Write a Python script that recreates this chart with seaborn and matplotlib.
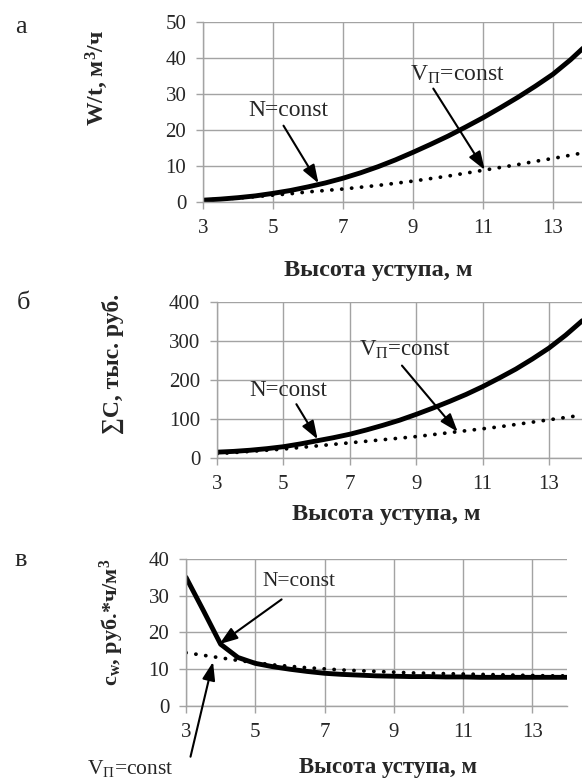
import numpy as np
import pandas as pd
import matplotlib
matplotlib.use('Agg')
import matplotlib.pyplot as plt
import seaborn as sns

# ---------data
height = [3, 3.5, 4, 4.5, 5, 5.5, 6, 6.5, 7, 7.5, 8, 8.5, 9, 9.5, 10,
          10.5, 11, 11.5, 12, 12.5, 13, 13.5, 14]

# a - W/t, m3/h
wt_N = [0.5, 0.8, 1.2, 1.7, 2.4, 3.2, 4.2, 5.3, 6.6, 8.1, 9.8, 11.7, 13.8,
        16.0, 18.3, 20.8, 23.4, 26.2, 29.1, 32.2, 35.5, 39.5, 44.0]
wt_V = [0.5, 0.8, 1.1, 1.5, 1.9, 2.3, 2.8, 3.2, 3.6, 4.1, 4.6, 5.2, 5.8,
        6.5, 7.2, 8.0, 8.8, 9.6, 10.4, 11.3, 12.1, 13.0, 13.9]

# б - total cost, thousand rub
cost_N = [15, 17, 20, 24, 29, 36, 44, 52, 61, 72, 84, 97, 112, 128, 145,
          163, 183, 205, 228, 254, 282, 315, 352]
cost_V = [11, 14, 17, 20, 23, 27, 31, 35, 39, 43, 47, 51, 55, 60, 65, 70,
          75, 80, 86, 92, 98, 104, 110]

# в - unit cost c_w
cw_N = [35.0, 26.0, 16.8, 13.2, 11.6, 10.7, 10.0, 9.4, 8.9, 8.6, 8.4, 8.2,
        8.1, 8.0, 8.0, 7.9, 7.9, 7.8, 7.8, 7.8, 7.8, 7.8, 7.8]
cw_V = [14.5, 13.8, 13.1, 12.4, 11.8, 11.2, 10.8, 10.4, 10.1, 9.8, 9.6, 9.4,
        9.2, 9.0, 8.9, 8.8, 8.7, 8.6, 8.5, 8.4, 8.3, 8.2, 8.2]

xticks = [3, 5, 7, 9, 11, 13]

# ---------style
sns.set_style("white")
plt.rcParams['font.family'] = ['Liberation Serif', 'DejaVu Serif']
plt.rcParams['mathtext.fontset'] = 'custom'
plt.rcParams['mathtext.rm'] = 'Liberation Serif'
plt.rcParams['mathtext.it'] = 'Liberation Serif:italic'
plt.rcParams['mathtext.bf'] = 'Liberation Serif:bold'

VP = 'V$_{\\mathregular{П}}$=const'
grid_c = '#a3a3a3'
arrow = dict(arrowstyle='-|>,head_length=0.85,head_width=0.3', color='black',
             lw=1.5, mutation_scale=13, shrinkA=0, shrinkB=0)

fig = plt.figure(figsize=(5.82, 7.82), dpi=100)

panels = [
    # axes pos, N, V, ylim, yticks, ylabel, ylabel xy, xlabel xy, letter xy
    ([0.3488, 0.7417, 0.6615, 0.2302], wt_N, wt_V, (0, 50), [0, 10, 20, 30, 40, 50],
     'W/t, м$^\\mathregular{3}$/ч', (-0.275, 0.69), (0.455, -0.38), 'а', (0.036, 0.965), 17),
    ([0.3729, 0.4143, 0.6275, 0.1995], cost_N, cost_V, (0, 400), [0, 100, 200, 300, 400],
     '∑C, тыс. руб.', (-0.285, 0.60), (0.464, -0.36), 'б', (0.040, 0.613), 17),
    ([0.3196, 0.0972, 0.6546, 0.1880], cw_N, cw_V, (0, 40), [0, 10, 20, 30, 40],
     'c$_\\mathregular{w}$, руб.*ч/м$^\\mathregular{3}$', (-0.194, 0.57), (0.53, -0.42),
     'в', (0.036, 0.284), 16),
]

axes = []
for pos, yN, yV, ylim, yt, ylab, ylxy, xlxy, letter, lxy, fs in panels:
    ax = fig.add_axes(pos)
    df = pd.DataFrame({'h': height, 'N': yN, 'V': yV})
    sns.lineplot(data=df, x='h', y='V', ax=ax, color='black', lw=2.7,
                 linestyle=(0, (0.05, 2.6)), dash_capstyle='round')
    sns.lineplot(data=df, x='h', y='N', ax=ax, color='black', lw=3.5)
    ax.set_xlim(3, 14)
    ax.set_ylim(*ylim)
    ax.set_xticks(xticks)
    ax.set_yticks(yt)
    ax.grid(True, color=grid_c, lw=1.0)
    ax.set_axisbelow(True)
    for s in ['top', 'right']:
        ax.spines[s].set_visible(False)
    for s in ['left', 'bottom']:
        ax.spines[s].set_color(grid_c)
        ax.spines[s].set_linewidth(1.0)
    ax.tick_params(axis='both', direction='out', length=5, width=1.0,
                   color=grid_c, labelsize=15, pad=7, bottom=True, left=True)
    ax.set_ylabel(ylab, fontsize=fs, fontweight='bold')
    ax.yaxis.set_label_coords(*ylxy)
    ax.yaxis.label.set_verticalalignment('center')
    ax.set_xlabel('Высота уступа, м', fontsize=fs + 0.5, fontweight='bold')
    ax.xaxis.set_label_coords(*xlxy)
    ax.xaxis.label.set_verticalalignment('center')
    fig.text(lxy[0], lxy[1], letter, fontsize=19, ha='center', va='center')
    axes.append(ax)

ax1, ax2, ax3 = axes

# ---------annotations
ax1.text(5.43, 25.5, 'N=const', fontsize=17, ha='center', va='center')
ax1.annotate('', xy=(6.3, 5.2), xytext=(5.3, 21.2), arrowprops=arrow)
ax1.text(10.26, 35.3, VP, fontsize=17, ha='center', va='center')
ax1.annotate('', xy=(11.05, 8.9), xytext=(9.58, 31.5), arrowprops=arrow)

ax2.text(5.13, 172, 'N=const', fontsize=16.5, ha='center', va='center')
ax2.annotate('', xy=(6.03, 48), xytext=(5.39, 138), arrowprops=arrow)
ax2.text(8.65, 277, VP, fontsize=16.5, ha='center', va='center')
ax2.annotate('', xy=(10.25, 67), xytext=(8.57, 237), arrowprops=arrow)

ax3.text(6.27, 33.8, 'N=const', fontsize=15.5, ha='center', va='center')
ax3.annotate('', xy=(3.96, 16.8), xytext=(5.76, 29), arrowprops=arrow)
ax3.text(1.4, -16.9, VP, fontsize=15.5, ha='center', va='center', clip_on=False)
ax3.annotate('', xy=(3.78, 12.0), xytext=(3.13, -13.8), arrowprops=arrow,
             annotation_clip=False)

plt.savefig('out.png', dpi=100)
